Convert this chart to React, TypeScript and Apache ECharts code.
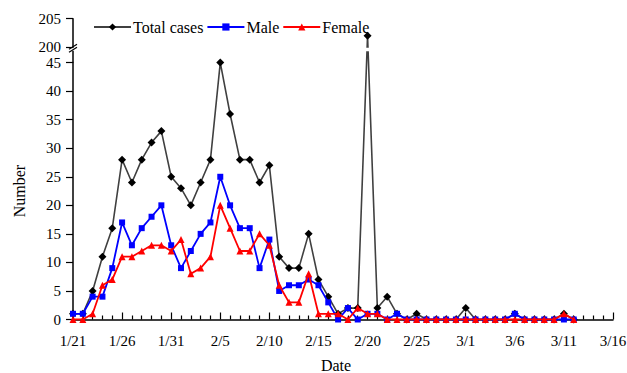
import React, { useEffect, useRef } from "react";
import * as echarts from "echarts";

// Day index 0 = 1/21 ... 51 = 3/12
const TICK_LABELS = ["1/21", "1/26", "1/31", "2/5", "2/10", "2/15", "2/20", "2/25", "3/1", "3/6", "3/11", "3/16"];
const TOTAL = [1, 1, 5, 11, 16, 28, 24, 28, 31, 33, 25, 23, 20, 24, 28, 45, 36, 28, 28, 24, 27, 11, 9, 9, 15, 7, 4, 1, 2, 2, 202, 2, 4, 1, 0, 1, 0, 0, 0, 0, 2, 0, 0, 0, 0, 1, 0, 0, 0, 0, 1, 0];
const MALE = [1, 1, 4, 4, 9, 17, 13, 16, 18, 20, 13, 9, 12, 15, 17, 25, 20, 16, 16, 9, 14, 5, 6, 6, 7, 6, 3, 0, 2, 0, 1, 1, 0, 1, 0, 0, 0, 0, 0, 0, 0, 0, 0, 0, 0, 1, 0, 0, 0, 0, 0, 0];
const FEMALE = [0, 0, 1, 6, 7, 11, 11, 12, 13, 13, 12, 14, 8, 9, 11, 20, 16, 12, 12, 15, 13, 6, 3, 3, 8, 1, 1, 1, 0, 2, 1, 1, 0, 0, 0, 0, 0, 0, 0, 0, 0, 0, 0, 0, 0, 0, 0, 0, 0, 0, 1, 0];

const LOWER_MAX = 45;
const UPPER_MIN = 200;
const UPPER_MAX = 205;
const UPPER_BASE = 47.7; // position of 200 on the compressed axis
const mapY = (v: number) => (v >= UPPER_MIN ? v - UPPER_MIN + UPPER_BASE : v);

export default function App() {
  const ref = useRef<HTMLDivElement>(null);
  useEffect(() => {
    if (!ref.current) return;
    const chart = echarts.init(ref.current, null, { renderer: "svg" });
    const font = "Liberation Serif";
    const left = 73;
    const right = 14;
    const zeroY = 319.5;
    const perUnit = (zeroY - 62.6) / LOWER_MAX;
    const dataTop = zeroY - (UPPER_MAX - UPPER_MIN + UPPER_BASE) * perUnit;
    const upperBottomY = zeroY - UPPER_BASE * perUnit;
    const bottom = 373 - zeroY;
    const hiddenAxis = { show: false };
    const mk = (arr: number[]) => arr.map((v, i) => [i, mapY(v)]);
    const gridBase = { left, right, outerBoundsMode: "none", containLabel: false };
    chart.setOption({
      animation: false,
      textStyle: { fontFamily: font, color: "#000" },
      legend: {
        left: 93,
        top: 19,
        padding: 0,
        itemWidth: 37,
        itemHeight: 9,
        itemGap: 3,
        textStyle: { fontFamily: font, fontSize: 16, color: "#000", padding: [0, 0, 0, -3] },
        data: ["Total cases", "Male", "Female"],
      },
      grid: [
        { ...gridBase, top: dataTop, bottom },
        { ...gridBase, top: zeroY - LOWER_MAX * perUnit, bottom },
        { ...gridBase, top: dataTop, height: upperBottomY - dataTop },
      ],
      xAxis: [
        {
          gridIndex: 0,
          type: "value",
          min: 0,
          max: 55,
          interval: 5,
          name: "Date",
          nameLocation: "middle",
          nameGap: 38,
          nameTextStyle: { fontFamily: font, fontSize: 16, color: "#000", padding: [0, 14, 0, 0] },
          axisLine: { onZero: false, lineStyle: { color: "#000", width: 1.5 } },
          axisTick: { inside: true, length: 7, lineStyle: { color: "#000", width: 1.2 } },
          minorTick: { show: true, splitNumber: 5, length: 4, lineStyle: { color: "#000", width: 1.2 } },
          splitLine: { show: false },
          minorSplitLine: { show: false },
          axisLabel: {
            fontFamily: font,
            fontSize: 15,
            color: "#000",
            margin: 14,
            formatter: (v: number) => TICK_LABELS[Math.round(v / 5)] ?? "",
          },
        },
        { gridIndex: 1, type: "value", min: 0, max: 55, ...hiddenAxis },
        { gridIndex: 2, type: "value", min: 0, max: 55, ...hiddenAxis },
      ],
      yAxis: [
        { gridIndex: 0, type: "value", min: 0, max: UPPER_MAX - UPPER_MIN + UPPER_BASE, ...hiddenAxis },
        {
          gridIndex: 1,
          type: "value",
          min: 0,
          max: LOWER_MAX,
          interval: 5,
          name: "Number",
          nameLocation: "middle",
          nameGap: 46,
          nameTextStyle: { fontFamily: font, fontSize: 16, color: "#000" },
          axisLine: { show: true, onZero: false, lineStyle: { color: "#000", width: 1.5 } },
          axisTick: { show: true, length: 7, lineStyle: { color: "#000", width: 1.2 } },
          splitLine: { show: false },
          axisLabel: { fontFamily: font, fontSize: 15, color: "#000", margin: 12 },
        },
        {
          gridIndex: 2,
          type: "value",
          min: UPPER_MIN,
          max: UPPER_MAX,
          interval: 5,
          axisLine: { show: true, onZero: false, lineStyle: { color: "#000", width: 1.5 } },
          axisTick: { show: true, length: 7, lineStyle: { color: "#000", width: 1.2 } },
          splitLine: { show: false },
          axisLabel: { fontFamily: font, fontSize: 15, color: "#000", margin: 12 },
        },
      ],
      series: [
        {
          name: "Total cases",
          type: "line",
          xAxisIndex: 0,
          yAxisIndex: 0,
          data: mk(TOTAL),
          symbol: "diamond",
          symbolSize: 8,
          lineStyle: { color: "#404040", width: 1.6 },
          itemStyle: { color: "#000" },
          z: 2,
        },
        {
          name: "Male",
          type: "line",
          xAxisIndex: 0,
          yAxisIndex: 0,
          data: mk(MALE),
          symbol: "rect",
          symbolSize: 6,
          lineStyle: { color: "#0000ff", width: 1.8 },
          itemStyle: { color: "#0000ff" },
          z: 3,
        },
        {
          name: "Female",
          type: "line",
          xAxisIndex: 0,
          yAxisIndex: 0,
          data: mk(FEMALE),
          symbol: "triangle",
          symbolSize: 7,
          lineStyle: { color: "#ff0000", width: 1.8 },
          itemStyle: { color: "#ff0000" },
          z: 4,
        },
      ],
      graphic: [
        { type: "rect", z: 100, shape: { x: 80, y: upperBottomY + 0.6, width: 530, height: 3.4 }, style: { fill: "#fff" } },
        { type: "line", z: 100, shape: { x1: left, y1: upperBottomY + 3.5, x2: left, y2: zeroY - LOWER_MAX * perUnit }, style: { stroke: "#000", lineWidth: 1.5 } },
        { type: "line", z: 101, shape: { x1: left - 4, y1: upperBottomY + 2, x2: left + 4, y2: upperBottomY - 3 }, style: { stroke: "#000", lineWidth: 1.2 } },
        { type: "line", z: 101, shape: { x1: left - 4, y1: upperBottomY + 5, x2: left + 4, y2: upperBottomY }, style: { stroke: "#000", lineWidth: 1.2 } },
      ],
    });
    return () => chart.dispose();
  }, []);
  return <div ref={ref} style={{ width: 627, height: 373, position: "absolute", left: 0, top: 0 }} />;
}
